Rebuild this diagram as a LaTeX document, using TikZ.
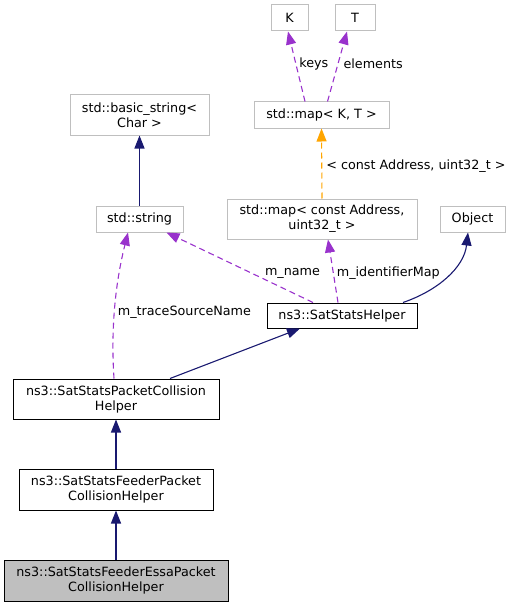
\documentclass[tikz,border=0pt]{standalone}
\usepackage{fontspec}
\setmainfont{DejaVu Sans}
\usepackage{xcolor}
\usepackage{tikz}
\usetikzlibrary{arrows.meta, calc}
\definecolor{navy}{RGB}{25,25,112}
\definecolor{orchid}{RGB}{153,50,204}
\definecolor{tmplorange}{RGB}{255,165,0}
\definecolor{boxgray}{RGB}{191,191,191}

\begin{document}
\begin{tikzpicture}[x=1pt, y=-1pt,
    font=\fontsize{12.75}{15}\selectfont,
    cls/.style={draw=black, rectangle, align=center, inner sep=0pt, line width=1pt},
    ext/.style={cls, draw=boxgray},
    inh/.style={draw=navy, line width=1.1pt, -{Triangle[length=13pt,width=10pt]}},
    usage/.style={draw=orchid, line width=1.1pt, dash pattern=on 6pt off 4pt, -{Triangle[length=13pt,width=10pt]}},
    tmpl/.style={usage, draw=tmplorange},
    lbl/.style={anchor=west, inner sep=0pt, text=black}]
      \useasboundingbox (0,0) rectangle (514,607);

      \node[ext, minimum width=37, minimum height=26] at (289.5,18) (K) {K};
      \node[ext, minimum width=40, minimum height=26] at (355,18) (T) {T};
      \node[ext, minimum width=135, minimum height=26] at (321.5,115) (mapKT) {std::map< K, T >};
      \node[ext, minimum width=139, minimum height=40] at (139.5,115) (basic) {std::basic\_string<\\Char >};
      \node[ext, minimum width=87, minimum height=26] at (139.5,219) (string) {std::string};
      \node[ext, minimum width=190, minimum height=40] at (322,219) (mapAddr) {std::map< const Address,\\uint32\_t >};
      \node[ext, minimum width=65, minimum height=26] at (472.5,219) (Object) {Object};
      \node[cls, minimum width=150, minimum height=25] at (342,315.5) (helper) {ns3::SatStatsHelper};
      \node[cls, minimum width=206, minimum height=40] at (116,399) (pcoll) {ns3::SatStatsPacketCollision\\Helper};
      \node[cls, minimum width=194, minimum height=41] at (116,489.5) (feeder) {ns3::SatStatsFeederPacket\\CollisionHelper};
      \node[cls, fill=boxgray, minimum width=224, minimum height=41] at (116,580.5) (essa) {ns3::SatStatsFeederEssaPacket\\CollisionHelper};

      \draw[usage] ([xshift=-16.5pt]mapKT.north) -- ([xshift=-1.5pt]K.south) node[lbl, pos=0.54, xshift=3pt] {keys};
      \draw[usage] ([xshift=6pt]mapKT.north) -- ([xshift=-8pt]T.south) node[lbl, pos=0.54, xshift=5pt] {elements};
      \draw[tmpl] (mapAddr.north) -- (mapKT.south) node[lbl, pos=0.46, xshift=4pt] {< const Address, uint32\_t >};

      \draw[inh] (string.north) -- (basic.south);

      \draw[usage] ([xshift=-29pt]helper.north) -- ([xshift=27pt]string.south) node[lbl, pos=0.42, xshift=13pt] {m\_name};
      \draw[usage] ([xshift=-4pt]helper.north) -- ([xshift=6pt]mapAddr.south) node[lbl, pos=0.47, xshift=3pt] {m\_identifierMap};
      \draw[inh] ([xshift=61pt]helper.north) .. controls +(35,-12) and +(-4,35) .. ([xshift=-4.5pt]Object.south);

      \draw[usage] ([xshift=-2pt]pcoll.north) .. controls +(-4,-60) and +(-10,40) .. ([xshift=-11.5pt]string.south) node[lbl, pos=0.4, xshift=3pt] {m\_traceSourceName};
      \draw[inh] ([xshift=54pt]pcoll.north) -- ([xshift=-42pt]helper.south);

      \draw[inh] (feeder.north) -- (pcoll.south);
      \draw[inh] (essa.north) -- (feeder.south);
    \end{tikzpicture}
\end{document}
